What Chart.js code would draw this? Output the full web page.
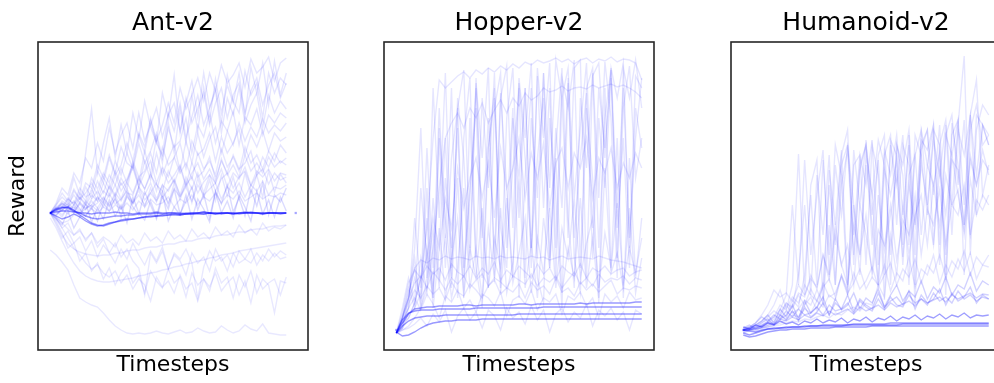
<!DOCTYPE html>
<html>
<head>
<meta charset="utf-8">
<script src="https://cdn.jsdelivr.net/npm/chart.js@4.4.0/dist/chart.umd.min.js"></script>
<style>
  html, body { margin: 0; padding: 0; background: #fff; overflow: hidden; width: 994px; height: 383px; }
  .panel { position: absolute; top: 0; width: 346px; height: 383px; }
</style>
</head>
<body>
<div class="panel" style="left:0px"><canvas id="ant"></canvas></div>
<div class="panel" style="left:346px"><canvas id="hopper"></canvas></div>
<div class="panel" style="left:693px"><canvas id="humanoid"></canvas></div>
<script>
// timesteps (thousands), shared by every run
const timesteps = [0,25,50,75,100,125,150,175,200,225,250,275,300,325,350,375,400,425,450,475,500,525,550,575,600,625,650,675,700,725,750,775,800,825,850,875,900,925,950,975,1000];

// ---- Ant-v2 ----
const antCore = [
  [0,10,20,20,10,0,0,-10,0,0, 0,10,0,0,-10,0,0,0,10,0, 0,0,-10,0,0,0,10,0,0,0, 0,-10,0,0,10,0,0,0,0,-10, 0],
  [0,40,60,50,20,0,-30,-50,-60,-50, -40,-30,-30,-20,-20,-10,-10,-10,0,-10, 0,0,0,-10,0,0,10,0,0,-10, 0,0,0,10,0,0,-10,0,0,0, 0],
  [0,30,50,60,30,-20,-60,-100,-120,-130, -110,-90,-80,-70,-60,-50,-40,-40,-30,-30, -20,-20,-20,-10,-10,-10,-10,0,-10,0, 0,-10,0,0,0,0,-10,0,0,0, 0],
  [0,-30,-60,-40,-10,-40,-80,-110,-130,-120, -100,-90,-70,-60,-60,-50,-40,-30,-30,-20, -20,-10,-20,-10,-10,0,-10,0,-10,0, 0,0,-10,0,0,0,0,0,0,0, 0]
];
const antNear = [
  [0,50,90,60,120,40,-30,60,-80,100, 20,150,-40,180,60,-20,210,80,-60,160, 40,240,-10,120,260,30,190,-50,220,90, 280,10,150,-30,240,70,300,-20,180,110, 250],
  [0,-60,-120,20,-150,-40,100,-90,50,-60, 130,-30,80,-100,160,0,-70,120,-40,200, -80,60,-20,180,-60,140,40,-90,210,0, 120,-50,180,60,-80,220,-10,130,-40,160, 20]
];
const antUp = [
  [0,60,30,140,90,250,160,200,420,300, 550,380,480,700,520,800,660,950,720,880, 1100,900,1250,1040,1180,1350,1120,1400,1220,1480, 1300,1380,1500,1260,1540,1400,1460,1560,1320,1500, 1550],
  [0,80,200,120,350,180,600,1040,400,700, 950,550,880,600,1000,740,1120,860,700,1200, 950,1380,800,1100,1320,960,1400,1050,1250,900, 1380,1120,1000,1420,1180,1300,950,1400,1200,1350, 1280],
  [0,20,100,50,220,140,300,250,480,350, 580,400,660,500,450,780,600,920,700,580, 1000,820,1100,750,960,1180,880,1050,1220,800, 1150,980,1250,900,1080,1200,850,1180,1000,1120, 1040],
  [0,-30,60,150,80,200,120,350,240,400, 300,520,380,600,440,700,500,620,800,550, 850,660,720,950,600,880,760,1000,700,920, 820,1020,680,960,880,1040,780,980,900,1000, 950],
  [0,30,120,80,180,100,260,150,320,200, 380,280,450,300,520,360,420,600,400,660, 480,550,700,440,720,580,640,800,520,760, 600,700,840,580,780,660,820,620,800,720, 760],
  [0,50,20,100,40,150,80,180,120,220, 160,280,140,300,200,360,240,400,220,440, 300,380,480,280,500,360,420,560,340,520, 400,580,440,500,620,380,560,460,600,500, 550],
  [0,-20,40,-10,80,20,120,60,100,160, 80,200,120,240,100,260,180,300,140,280, 220,340,180,360,240,400,200,380,300,440, 260,400,340,460,280,420,360,440,320,400, 380],
  [0,40,80,30,60,0,40,80,20,120, 60,140,40,160,100,180,80,200,120,220, 100,240,160,260,120,280,180,240,300,140, 260,200,300,160,280,220,320,180,260,240, 280],
  [0,60,100,80,20,-40,-20,40,0,60, 20,80,40,100,30,120,60,140,80,100, 160,60,140,100,180,80,160,120,200,100, 180,140,220,120,160,200,140,180,160,200, 180],
  [0,-40,-100,-80,-20,0,80,40,160,100, 280,180,350,240,500,300,620,400,760,500, 900,600,1040,700,1180,820,1260,920,1340,1000, 1280,1100,1400,960,1460,1200,1500,1080,1520,1180, 1400],
  [0,80,160,100,240,140,200,300,180,360, 240,420,280,340,480,260,400,520,300,460, 360,560,400,500,340,600,440,520,380,640, 460,560,420,660,500,580,440,620,520,680, 600],
  [0,20,-40,60,0,100,40,140,220,120, 260,160,300,200,180,340,240,380,280,220, 420,300,460,260,400,500,340,440,300,540, 380,480,360,580,420,500,400,560,460,520, 480],
  [0,40,-20,60,10,90,30,120,50,150, 70,180,40,200,90,230,60,250,110,280, 80,300,130,320,100,350,150,330,120,380, 170,360,140,400,190,380,160,420,210,390, 300],
  [0,-10,30,70,20,110,50,80,160,60, 190,90,140,220,100,260,130,200,300,150, 240,330,170,280,360,200,310,380,220,340, 400,250,360,420,270,380,440,290,400,330, 360],
  [0,20,60,30,80,160,90,240,120,300, 180,380,220,320,450,260,520,330,600,380, 540,680,420,720,500,800,560,740,860,600, 820,680,900,720,860,760,940,800,880,820, 900],
  [0,100,250,180,400,300,550,450,700,520, 850,600,780,900,650,1000,720,880,1050,760, 980,1100,820,1150,900,1050,1200,880,1100,1250, 950,1180,1300,1000,1220,1350,1080,1280,1400,1150, 1300]
];
const antDown = [
  [-370,-420,-490,-570,-720,-850,-890,-920,-940,-1000, -1070,-1130,-1170,-1200,-1210,-1200,-1210,-1200,-1180,-1200, -1210,-1190,-1170,-1200,-1190,-1150,-1180,-1200,-1190,-1130, -1170,-1200,-1180,-1120,-1160,-1180,-1110,-1200,-1210,-1220, -1220],
  [0,-100,-220,-310,-360,-390,-410,-420,-430,-420, -420,-400,-400,-380,-370,-370,-350,-340,-340,-320, -310,-310,-290,-280,-280,-260,-250,-250,-230,-220, -220,-200,-190,-190,-170,-160,-160,-140,-130,-130, -120],
  [-50,-150,-280,-400,-500,-580,-630,-660,-680,-690, -690,-680,-670,-660,-650,-630,-620,-600,-590,-570, -560,-540,-530,-510,-500,-480,-470,-450,-440,-420, -410,-400,-380,-370,-360,-350,-340,-330,-320,-310, -300],
  [0,-80,-200,-350,-300,-480,-400,-580,-500,-660, -550,-720,-600,-520,-700,-620,-800,-580,-680,-750, -560,-700,-640,-840,-600,-720,-660,-780,-550,-700, -640,-850,-620,-740,-580,-800,-660,-720,-1000,-680, -700],
  [0,-120,-250,-180,-300,-240,-380,-280,-440,-320, -400,-500,-360,-460,-300,-420,-520,-380,-480,-340, -560,-400,-460,-360,-500,-860,-540,-380,-480,-440, -580,-400,-500,-460,-360,-520,-420,-480,-400,-460, -440],
  [0,-60,-150,-100,-220,-160,-280,-200,-340,-260, -400,-300,-440,-360,-480,-550,-820,-400,-500,-380, -560,-420,-480,-620,-400,-500,-440,-580,-360,-480, -420,-540,-380,-460,-500,-400,-480,-360,-440,-380, -420],
  [0,-40,-100,-160,-220,-180,-260,-200,-300,-240, -280,-340,-220,-300,-260,-320,-200,-280,-240,-300, -180,-260,-220,-280,-160,-240,-200,-260,-140,-220, -180,-240,-120,-200,-160,-220,-100,-180,-140,-160, -120],
  [0,-50,-150,-250,-350,-420,-500,-560,-520,-600, -640,-580,-700,-620,-760,-660,-720,-880,-640,-740, -680,-800,-620,-760,-700,-880,-660,-740,-600,-780, -700,-640,-820,-680,-900,-620,-760,-700,-660,-820, -640]
];
const antStrayX = [0, 1040];
const antStrayY = [0, 0];

// ---- Hopper-v2 ----
const hopBand = [
  [50,180,250,270,280,280,280,290,290,290, 290,290,290,300,300,300,300,300,300,300, 300,300,300,300,310,310,310,310,310,310, 310,310,310,310,310,310,310,310,310,310, 310],
  [50,150,240,290,300,310,310,320,320,320, 320,330,330,320,330,330,330,330,330,330, 340,340,330,340,340,340,340,340,340,340, 350,340,350,350,350,350,350,350,350,360, 360],
  [60,20,30,60,100,130,150,160,170,170, 180,180,180,180,190,190,190,190,190,190, 190,190,190,190,190,190,190,190,190,190, 190,190,190,190,190,190,190,190,190,190, 190],
  [50,120,170,200,210,220,220,220,230,230, 230,230,230,230,230,230,230,230,230,230, 240,240,240,240,240,240,240,240,240,240, 240,240,240,240,240,240,240,240,240,240, 240]
];
const hopRuns = [
  [50,100,200,350,600,1100,2000,2580,2500,2560, 2620,2660,2600,2680,2640,2700,2660,2720,2680,2740, 2700,2760,2730,2780,2750,2770,2800,2760,2790,2740, 2780,2800,2750,2790,2770,2810,2760,2790,2780,2750, 2580],
  [50,80,120,200,300,500,900,1500,2000,2150, 2250,2100,2300,2200,2350,2150,2280,2380,2250,2400, 2320,2450,2380,2420,2500,2460,2480,2520,2470,2500, 2510,2490,2530,2500,2520,2540,2510,2530,2500,2460, 2400],
  [50,200,400,900,2100,600,2500,1200,2650,700, 2300,2680,900,2550,1800,2700,600,2400,2720,1100, 2600,2000,2750,800,2650,1500,2780,2400,1000,2700, 2780,600,2620,2750,1800,2700,2400,2750,900,2620, 2500],
  [50,100,250,300,450,1500,400,2000,700,1800, 2300,600,1400,2500,1000,2200,800,2450,1500,600, 2550,1800,900,2620,1300,2500,600,2400,2700,1400, 2100,2750,1100,2500,1900,2680,800,2300,2720,1600, 2000],
  [50,150,200,350,600,800,1200,900,1400,1100, 1700,1300,1600,1800,1400,1750,1200,1900,1500,1700, 2000,1400,1850,1600,1950,1300,1750,1900,1500,1850, 1700,2000,1400,1800,1650,1900,1500,1750,1600,1850, 1700],
  [50,120,300,600,400,1200,300,900,2000,500, 1600,400,2200,700,300,1900,2500,450,1200,2300, 400,1600,2500,600,350,2200,1400,300,2600,800, 450,2300,1600,350,2500,700,2000,400,1800,600, 1200],
  [40,200,500,300,800,450,1400,600,1000,400, 700,1500,500,900,400,1100,600,1300,450,750, 1600,500,950,400,1200,700,1800,450,900,600, 1400,500,1000,400,1700,650,850,500,1300,450, 800],
  [50,150,300,1200,500,1900,700,2300,1000,2500, 400,2000,2600,800,2400,1500,2650,500,2200,2700, 1200,2500,700,2700,2000,2750,900,2600,2300,2780, 700,2500,2700,1400,2760,2200,600,2700,2400,2780, 2300],
  [50,100,400,800,300,600,1100,500,1600,900, 2100,700,1500,2300,600,1900,2400,1100,700,2200, 1600,2500,900,1800,2400,700,2100,1300,2550,1000, 1800,2450,800,2200,1500,2600,1100,2000,700,2300, 1900],
  [50,200,400,700,350,900,500,1100,400,800, 1200,450,900,600,1300,500,1000,700,1400,550, 850,1200,450,1000,650,1300,500,1100,800,1400, 600,950,1200,500,1050,700,1350,550,900,650, 1000],
  [50,300,600,350,1500,800,400,2100,1200,600, 2400,1800,700,2600,1100,500,2300,2650,900,1700, 2500,600,2200,1400,2650,800,1900,2700,1200,500, 2400,1700,2650,900,2200,2700,1300,2500,1000,2000, 2600],
  [50,200,450,700,780,750,800,780,820,790, 810,800,780,820,800,810,790,820,800,810, 800,790,820,800,810,780,800,820,790,800, 810,800,790,820,800,780,770,760,740,720, 700],
  [50,250,550,680,600,720,640,700,580,740, 660,620,720,600,700,640,760,580,680,620, 720,660,600,740,640,700,580,720,660,620, 740,600,700,660,720,640,680,700,620,660, 680],
  [50,200,350,480,400,520,440,500,380,560, 460,420,540,480,400,520,580,440,500,460, 540,400,560,480,520,440,600,460,500,420, 560,480,540,460,520,580,440,500,480,520, 500],
  [50,180,300,400,280,440,340,200,420,360, 480,300,380,260,440,400,320,460,220,380, 420,340,480,280,400,360,440,240,420,380, 460,320,400,200,440,360,420,300,460,380, 400],
  [50,220,400,550,620,500,660,580,480,600, 540,620,500,580,640,520,600,560,500,620, 580,540,640,520,600,560,620,500,580,660, 540,600,520,640,560,600,580,620,540,600, 580],
  [40,80,100,140,200,120,240,160,280,60, 220,300,180,260,100,280,220,80,300,200, 260,140,320,180,280,60,240,300,160,260, 200,340,120,280,220,300,180,260,80,280, 240]
];
const hopStrayX = [0];
const hopStrayY = [80];

// ---- Humanoid-v2 ----
const humCore = [
  [150,140,130,150,160,170,170,180,180,180, 180,190,190,190,190,190,190,200,200,200, 200,200,200,200,200,200,210,210,210,210, 210,210,210,210,210,210,210,210,210,210, 210],
  [120,100,120,140,160,160,170,170,180,180, 190,190,190,200,200,200,200,200,210,210, 210,210,210,210,220,220,220,220,220,220, 220,220,220,220,220,220,220,220,220,220, 220],
  [180,160,200,180,220,200,240,210,230,200, 240,220,260,220,250,230,270,220,260,240, 280,230,270,250,290,240,280,260,300,250, 290,270,310,260,300,280,320,270,300,290, 300],
  [100,80,90,110,130,140,150,150,160,160, 160,170,170,170,170,180,180,180,180,180, 180,190,190,190,190,190,190,190,190,190, 190,190,190,190,190,190,190,190,190,190, 190]
];
const humBand = [
  [160,180,220,280,240,300,260,340,280,360, 300,320,380,300,400,340,360,420,320,440, 380,340,460,360,480,400,380,500,420,460, 400,520,440,480,420,540,460,500,440,480, 460],
  [140,170,200,240,300,220,360,280,400,260, 440,320,380,480,300,420,360,500,340,460, 400,360,520,380,440,480,400,540,360,500, 420,460,560,400,520,440,480,580,420,500, 460],
  [120,150,180,220,260,200,300,250,340,240, 380,280,330,420,300,460,350,400,520,360, 470,420,560,380,500,600,440,540,480,640, 460,580,520,680,500,600,560,720,540,640, 600],
  [170,200,160,190,230,210,260,240,280,250, 300,270,320,290,340,300,330,360,310,380, 340,370,400,350,420,380,410,440,390,460, 420,450,480,430,500,460,490,520,470,510, 500]
];
const humRuns = [
  [150,160,180,200,240,280,400,350,600,1910, 500,1600,1850,400,1750,1200,1950,600,1800,1900, 800,2000,1700,450,2050,1900,1000,2100,600,2000, 2150,1500,2200,900,2100,2250,700,2150,2400,2000, 2100],
  [160,150,170,190,220,200,260,300,450,380, 700,1500,600,1850,900,2000,1700,500,1950,1400, 2050,1000,1900,2100,600,2000,1800,2150,1200,2050, 1950,2200,800,2100,2300,1600,2250,1100,2300,2200, 2000],
  [140,150,160,180,200,240,300,260,340,280, 400,480,350,600,1600,1000,1900,2150,800,1800, 2000,1500,600,1900,2100,1200,2000,1800,400,1950, 2150,1000,2000,2250,1400,2200,2890,900,2150,2400, 2300],
  [150,160,140,180,200,220,280,400,320,360, 450,400,550,420,1200,600,1800,2000,1400,700, 1900,1500,2050,1800,900,2000,1700,600,2100,1900, 1300,2150,2000,500,2220,1800,1200,2300,2650,1500, 1800],
  [150,140,160,170,180,200,220,250,300,280, 360,320,440,380,500,450,700,550,1400,900, 1800,1200,600,1750,1500,1850,800,1700,1900,1100, 1800,1600,1920,700,1850,1750,1200,1900,1600,1850, 1750],
  [150,160,150,170,180,190,200,220,240,230, 260,250,280,300,270,320,300,350,380,340, 420,400,600,480,1100,700,1400,900,1300,1500, 1000,1600,1200,1700,1400,1550,1100,1650,1300,1500, 1400],
  [150,170,200,240,300,400,550,360,480,420, 600,500,440,580,660,480,700,520,620,760, 560,680,600,800,540,720,640,880,580,760, 700,900,620,800,680,860,740,920,660,800, 780],
  [150,180,220,300,400,550,480,520,440,600, 500,660,580,900,700,1200,800,1000,600,1400, 1100,750,1500,950,1300,1700,880,1600,1200,1800, 1400,1000,1750,1300,1900,1500,1150,1850,1600,1950, 1700],
  [150,160,170,200,230,280,350,500,1400,600, 1850,900,1500,1950,700,1800,1300,2000,1100,1900, 1600,2050,800,1950,1700,2100,1300,2000,900,2150, 1800,2200,1000,2100,1900,2250,1400,2300,1700,2200, 2000],
  [150,150,160,170,190,210,250,300,380,700, 1400,500,1700,1100,1900,600,1600,1950,900,1750, 2000,1300,1850,700,2000,1600,2100,1000,1900,2150, 1400,2050,1700,2200,1100,2150,1900,2300,1300,2200, 2100],
  [150,160,170,190,220,260,320,420,380,520, 480,700,560,900,650,1100,800,600,1200,900, 1300,700,1150,1000,1400,850,1250,1100,1500,900, 1350,1200,1550,1000,1400,1300,1600,1100,1450,1350, 1500],
  [150,170,190,230,280,340,300,420,360,500, 400,560,440,620,480,520,680,500,720,560, 640,780,580,700,820,600,760,680,860,620, 800,720,900,680,840,760,940,700,880,800, 900]
];
const humStrayX = [0];
const humStrayY = [150];

Chart.defaults.font.family = "'DejaVu Sans', sans-serif";
Chart.defaults.color = "#000";

function lines(runs, alpha) {
  return runs.map(vals => ({
    data: vals.map((v, i) => ({ x: timesteps[i], y: v })),
    borderColor: "rgba(0, 0, 255, " + alpha + ")",
    borderWidth: 1.4,
    pointRadius: 0,
    tension: 0,
    fill: false,
  }));
}

function dots(xs, ys) {
  return {
    data: xs.map((x, i) => ({ x: x, y: ys[i] })),
    showLine: false,
    pointRadius: 1.6,
    pointStyle: "rect",
    pointBackgroundColor: "rgba(0, 0, 255, 0.35)",
    pointBorderWidth: 0,
  };
}

// box around the plot area, like the axes spines
const frame = {
  id: "frame",
  afterDatasetsDraw(chart) {
    const { ctx, chartArea: a } = chart;
    ctx.save();
    ctx.strokeStyle = "#262626";
    ctx.lineWidth = 1.6;
    ctx.strokeRect(a.left, a.top, a.right - a.left, a.bottom - a.top);
    ctx.restore();
  },
};

function panel(id, title, datasets, xRange, yRange, showReward) {
  const ctx = document.getElementById(id).getContext("2d");
  return new Chart(ctx, {
    type: "line",
    data: { datasets: datasets },
    options: {
      animation: false,
      responsive: true,
      maintainAspectRatio: false,
      layout: { padding: { left: showReward ? 5 : 38, right: 38, top: 0, bottom: 2 } },
      plugins: {
        legend: { display: false },
        tooltip: { enabled: false },
        title: {
          display: true,
          fullSize: false,
          text: title,
          color: "#000",
          font: { size: 25, weight: "normal" },
          padding: { top: 8.5, bottom: 3.5 },
        },
      },
      scales: {
        x: {
          type: "linear",
          min: xRange[0],
          max: xRange[1],
          grid: { display: false, drawTicks: false },
          border: { display: false },
          ticks: { display: false },
          title: {
            display: true,
            text: "Timesteps",
            color: "#000",
            font: { size: 22 },
            padding: { top: 2.3, bottom: 2.3 },
          },
        },
        y: {
          display: showReward,
          min: yRange[0],
          max: yRange[1],
          grid: { display: false, drawTicks: false },
          border: { display: false },
          ticks: { display: false },
          title: {
            display: showReward,
            text: "Reward",
            color: "#000",
            font: { size: 22 },
            padding: { top: 0, bottom: 6.6 },
          },
        },
      },
    },
    plugins: [frame],
  });
}

panel("ant", "Ant-v2",
  [].concat(lines(antCore, 0.4), lines(antNear, 0.14), lines(antUp, 0.1), lines(antDown, 0.09), [dots(antStrayX, antStrayY)]),
  [-52, 1092], [-1370, 1710], true);

panel("hopper", "Hopper-v2",
  [].concat(lines(hopBand, 0.4), lines(hopRuns, 0.1), [dots(hopStrayX, hopStrayY)]),
  [-50, 1050], [-120, 2960], false);

panel("humanoid", "Humanoid-v2",
  [].concat(lines(humCore, 0.38), lines(humBand, 0.18), lines(humRuns, 0.1), [dots(humStrayX, humStrayY)]),
  [-50, 1050], [-50, 3030], false);
</script>
</body>
</html>
